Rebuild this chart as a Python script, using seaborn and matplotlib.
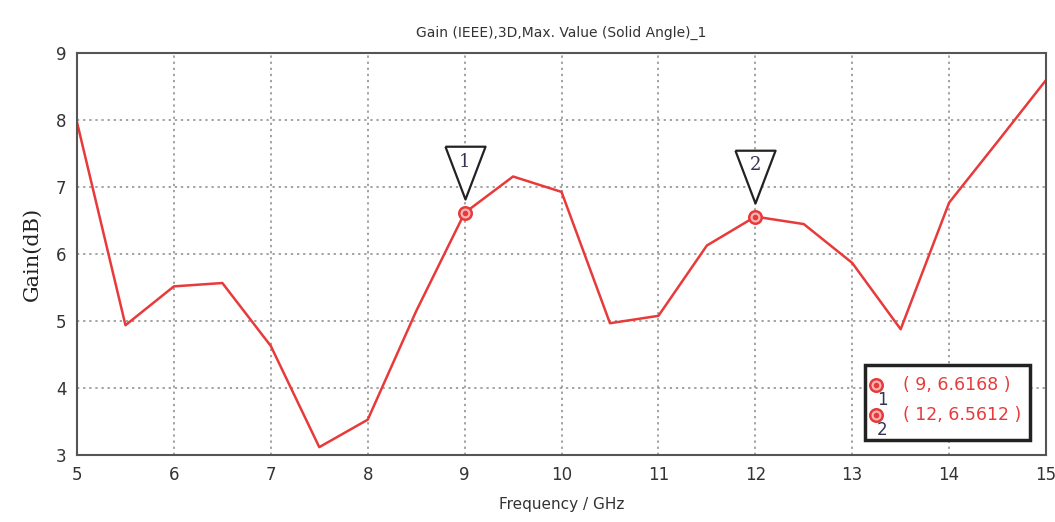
import numpy as np
import pandas as pd
import matplotlib
matplotlib.use("Agg")
import matplotlib.pyplot as plt
import seaborn as sns
from matplotlib.patches import Rectangle

freq = [5, 5.5, 6, 6.5, 7, 7.5, 8, 8.5, 9, 9.5, 10, 10.5, 11, 11.5, 12, 12.5, 13, 13.5, 14, 14.5, 15]
gain = [7.97, 4.94, 5.52, 5.57, 4.63, 3.12, 3.53, 5.15, 6.6168, 7.16, 6.93, 4.97, 5.08, 6.13, 6.5612, 6.45, 5.87, 4.88, 6.77, 7.68, 8.6]
marker_x = [9, 12]
marker_y = [6.6168, 6.5612]
marker_ids = ["1", "2"]
xticks = [5, 6, 7, 8, 9, 10, 11, 12, 13, 14, 15]
yticks = [3, 4, 5, 6, 7, 8, 9]

sns.set_theme(style="white")
plt.rcParams['font.family'] = ['DejaVu Sans']

RED = "#e83a3a"
df = pd.DataFrame({"Frequency": freq, "Gain": gain})

fig = plt.figure(figsize=(10.55, 5.22), dpi=100)
ax = fig.add_axes([0.073, 0.128, 0.9185, 0.77])
sns.lineplot(data=df, x="Frequency", y="Gain", ax=ax, color=RED, linewidth=1.8)

ax.set_xlim(5, 15)
ax.set_ylim(3, 9)
ax.set_xticks(xticks)
ax.set_yticks(yticks)
ax.grid(True, linestyle=(0, (1.5, 2.5)), color="#8a8a8a", linewidth=1.1)
for s in ax.spines.values():
    s.set_color("#555555")
    s.set_linewidth(1.5)
ax.tick_params(axis="both", direction="inout", length=7, width=1.2, color="#555555",
               labelsize=12, labelcolor="#333333", pad=4)
ax.set_xlabel("Frequency / GHz", fontsize=11, color="#333333", labelpad=10)
ax.set_ylabel("Gain(dB)", fontsize=15, family="DejaVu Serif", color="#222222", labelpad=10)
ax.set_title("Gain (IEEE),3D,Max. Value (Solid Angle)_1", fontsize=10, color="#333333", pad=12)

# markers on curve
ax.plot(marker_x, marker_y, linestyle="none", marker="o", markersize=9,
        markerfacecolor="#f7b5b5", markeredgecolor=RED, markeredgewidth=1.8, zorder=5)
ax.plot(marker_x, marker_y, linestyle="none", marker="o", markersize=3,
        color=RED, zorder=6)

# triangular flags
tri = [(-0.38, 1.0), (0.38, 1.0), (0.0, 0.0), (-0.38, 1.0)]
for mx, my, mid in zip(marker_x, marker_y, marker_ids):
    ax.plot([mx], [my], linestyle="none", marker=tri, markersize=76,
            markerfacecolor="white", markeredgecolor="#222222", markeredgewidth=1.6,
            zorder=7, transform=ax.transData + matplotlib.transforms.ScaledTranslation(0, 10/72, fig.dpi_scale_trans))
    ax.annotate(mid, xy=(mx, my), xytext=(0, 37), textcoords="offset points",
                ha="center", va="center", fontsize=13, family="DejaVu Serif",
                color="#333355", zorder=8)

# marker info box
ax.add_patch(Rectangle((0.813, 0.037), 0.170, 0.187, transform=ax.transAxes,
                       facecolor="white", edgecolor="#222222", linewidth=2.5, zorder=9))
rows_y = [0.174, 0.099]
for (mx, my, mid, ry) in zip(marker_x, marker_y, marker_ids, rows_y):
    ax.plot([0.825], [ry], transform=ax.transAxes, linestyle="none", marker="o", markersize=9,
            markerfacecolor="#f7b5b5", markeredgecolor=RED, markeredgewidth=1.8, zorder=10, clip_on=False)
    ax.plot([0.825], [ry], transform=ax.transAxes, linestyle="none", marker="o", markersize=3,
            color=RED, zorder=11, clip_on=False)
    ax.text(0.831, ry - 0.037, mid, transform=ax.transAxes, fontsize=12, color="#333355",
            ha="center", va="center", zorder=11)
    ax.text(0.852, ry, f"( {mx:g}, {my:.4f} )", transform=ax.transAxes, fontsize=12.5,
            color=RED, ha="left", va="center", zorder=11)

fig.savefig("out.png", dpi=100)
